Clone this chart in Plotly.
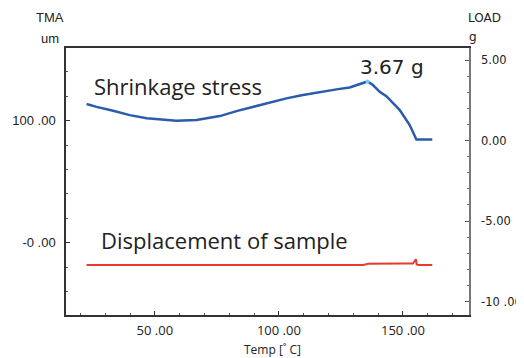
import plotly.graph_objects as go

# Shrinkage stress (LOAD, g) vs temperature
load_temp = [22.5, 26.5, 33.2, 39.9, 46.7, 53.4, 58.7, 66.8, 73.5, 76.2, 82.9, 89.6, 96.3,
             103.0, 109.7, 116.5, 123.2, 128.5, 131.2, 135.7,
             137.9, 140.6, 143.3, 148.7, 152.7, 155.4, 161.8]
load_g = [2.27, 2.09, 1.85, 1.58, 1.38, 1.27, 1.23, 1.27, 1.42, 1.52, 1.83, 2.10, 2.37,
          2.62, 2.83, 3.03, 3.18, 3.30, 3.45, 3.67,
          3.45, 3.03, 2.76, 1.89, 0.96, 0.07, 0.07]

# Displacement of sample (TMA, um) vs temperature
tma_temp = [22.5, 40, 60, 80, 100, 120, 134, 136, 150, 154, 155.2, 155.5, 156, 161.8]
tma_um = [-18.3, -18.4, -18.3, -18.3, -18.4, -18.3, -18.3, -17.2, -17.0, -17.1, -13.6, -17.8, -18.3, -18.3]

x_ticks = [50, 100, 150]
x_ticktext = ["50 .00", "100 .00", "150 .00"]
y_ticks = [0, 100]
y_ticktext = ["-0 .00", "100 .00"]
y2_ticks = [5, 0, -5, -10]
y2_ticktext = ["5.00", "0.00", "-5.00", "-10 .00"]

peak_i = max(range(len(load_g)), key=lambda i: load_g[i])

fig = go.Figure()
fig.add_trace(go.Scatter(x=tma_temp, y=tma_um, mode="lines",
                         line=dict(color="#e8392b", width=2), yaxis="y"))
fig.add_trace(go.Scatter(x=load_temp, y=load_g, mode="lines",
                         line=dict(color="#2b5bab", width=2.5), yaxis="y2"))
fig.add_trace(go.Scatter(x=[load_temp[peak_i]], y=[load_g[peak_i]], mode="markers",
                         marker=dict(color="#6fcfe6", size=4), yaxis="y2"))

# page body has an 8px margin, so the figure is drawn 8px smaller and offset
OFF = 8
W, H = 524 - OFF, 358 - OFF
L, T = 66 - OFF, 48 - OFF
pw, ph = 403, 267
R, B = W - L - pw, H - T - ph


def px(x):
    return (x - OFF - L) / pw


def py(y):
    return (T + ph - (y - OFF)) / ph


annots = [
    dict(text="Shrinkage stress", x=px(178), y=py(86), font=dict(family="Open Sans", size=22, color="#222")),
    dict(text=f"{load_g[peak_i]:.2f} g", x=px(392), y=py(67), font=dict(family="DejaVu Sans", size=20, color="#222")),
    dict(text="Displacement of sample", x=px(224), y=py(240), font=dict(family="Open Sans", size=22, color="#222")),
    dict(text="Temp [˚ C]", x=px(272), y=py(349), font=dict(family="Open Sans", size=12, color="#222")),
    dict(text="TMA", x=px(49.5), y=py(18), font=dict(family="Liberation Sans", size=13, color="#222")),
    dict(text="um", x=px(50), y=py(39), font=dict(family="Liberation Sans", size=13, color="#222")),
    dict(text="LOAD", x=px(484), y=py(18), font=dict(family="DejaVu Sans", size=12, color="#222")),
    dict(text="g", x=px(473), y=py(37), font=dict(family="DejaVu Sans", size=12, color="#222")),
]
for a in annots:
    a.update(xref="paper", yref="paper", showarrow=False, xanchor="center", yanchor="middle")

fig.update_layout(
    width=W, height=H, margin=dict(l=L, r=R, t=T, b=B, autoexpand=False),
    plot_bgcolor="white", paper_bgcolor="white", showlegend=False,
    annotations=annots,
    xaxis=dict(range=[14.2, 176.6], tickvals=x_ticks, ticktext=x_ticktext, automargin=False,
               ticks="inside", ticklen=4, tickcolor="#333",
               minor=dict(ticks="inside", ticklen=2, dtick=10, tick0=0, tickcolor="#555"),
               showline=True, linecolor="#333", linewidth=1.5, mirror=True,
               showgrid=False, zeroline=False, ticklabelstandoff=3,
               tickfont=dict(family="Open Sans", size=13, color="#222")),
    yaxis=dict(range=[-59.3, 159.6], tickvals=y_ticks, ticktext=y_ticktext, automargin=False,
               ticks="inside", ticklen=4, tickcolor="#333",
               minor=dict(ticks="inside", ticklen=2, dtick=20, tick0=0, tickcolor="#555"),
               showline=True, linecolor="#333", linewidth=1.5,
               showgrid=False, zeroline=False, ticklabelstandoff=6,
               tickfont=dict(family="Liberation Sans", size=13, color="#222")),
    yaxis2=dict(range=[-10.84, 5.75], tickvals=y2_ticks, ticktext=y2_ticktext, automargin=False,
                overlaying="y", side="right",
                ticks="inside", ticklen=4, tickcolor="#555",
                minor=dict(ticks="inside", ticklen=2, dtick=1, tick0=0, tickcolor="#666"),
                showline=True, linecolor="#777", linewidth=1.5,
                showgrid=False, zeroline=False, ticklabelstandoff=8,
                tickfont=dict(family="DejaVu Sans", size=11.5, color="#222")),
)

fig.write_html("out.html")
